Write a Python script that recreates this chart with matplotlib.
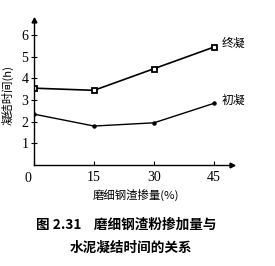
import matplotlib
matplotlib.use('Agg')
from matplotlib import pyplot as plt

# 磨细钢渣掺量 (%) and setting times (h)
dosage = [0, 15, 30, 45]
final_set = [3.55, 3.45, 4.45, 5.45]
initial_set = [2.35, 1.8, 1.95, 2.85]
yticks = [1, 2, 3, 4, 5, 6]
xticks = [0, 15, 30, 45]

plt.rcParams['font.family'] = ['Liberation Serif', 'Noto Sans CJK SC']

W, H = 275, 266
fig = plt.figure(figsize=(W / 100, H / 100), dpi=100)
ax = fig.add_axes([34 / W, 1 - 165 / H, (232 - 34) / W, (165 - 20) / H])

ax.plot(dosage, final_set, color='black', lw=1.2, marker='s', ms=3.6,
        mfc='white', mec='black', mew=1.3)
ax.plot(dosage, initial_set, color='black', lw=1.0, marker='o', ms=2.2)

ax.set_xlim(0, 49.5)
ax.set_ylim(0, 6.7)
for s in ['top', 'right']:
    ax.spines[s].set_visible(False)
ax.spines['left'].set_linewidth(1.0)
ax.spines['bottom'].set_linewidth(1.0)

# arrow heads on the axes
ax.plot(1, 0, '>k', ms=3.5, transform=ax.transAxes, clip_on=False)
ax.plot(0, 1, '^k', ms=3.5, transform=ax.transAxes, clip_on=False)

ax.set_yticks(yticks)
ax.set_yticklabels([str(v) for v in yticks])
ax.set_xticks(xticks)
ax.set_xticklabels([''] + [str(v) for v in xticks[1:]])
ax.tick_params(axis='y', direction='inout', length=4, width=0.8, labelsize=10, pad=2)
ax.tick_params(axis='x', direction='in', length=3, width=0.8, labelsize=10, pad=4)
ax.text(-1.5, -0.33, '0', ha='center', va='top', fontsize=10)

ax.text(46.8, 5.6, '终凝', fontsize=8.5, va='center', family='Noto Sans CJK SC')
ax.text(46.8, 3.0, '初凝', fontsize=8.5, va='center', family='Noto Sans CJK SC')

fig.text(8 / W, 1 - 95 / H, '凝结时间(h)', rotation=90, ha='center', va='center',
         fontsize=8.2, family=['Noto Sans CJK SC'])
fig.text(136 / W, 1 - 195 / H, '磨细钢渣掺量(%)', ha='center', va='center',
         fontsize=8.2, family=['Noto Sans CJK SC'])
fig.text(126 / W, 1 - 225 / H, '图 2.31    磨细钢渣粉掺加量与', ha='center', va='center',
         fontsize=9.8, fontweight='bold', family=['Noto Sans CJK SC'])
fig.text(131 / W, 1 - 248 / H, '水泥凝结时间的关系', ha='center', va='center',
         fontsize=9.8, fontweight='bold', family=['Noto Sans CJK SC'])

fig.savefig('out.png', dpi=100)
